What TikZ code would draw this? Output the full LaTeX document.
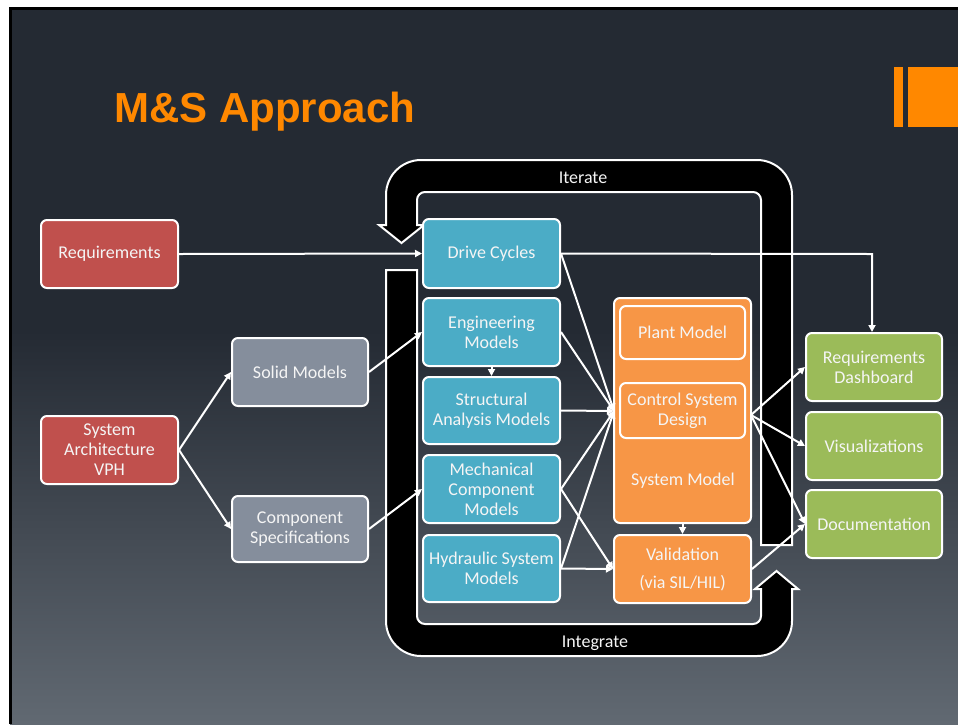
\documentclass[tikz,border=0pt]{standalone}
\usepackage{fontspec}
\setmainfont{Carlito}
\newfontfamily\headfont{Liberation Sans}
\usetikzlibrary{arrows.meta}

\definecolor{slidetop}{RGB}{36,42,51}
\definecolor{slidebot}{RGB}{97,105,114}
\definecolor{accent}{RGB}{255,136,0}
\definecolor{boxred}{RGB}{192,80,77}
\definecolor{boxgray}{RGB}{133,142,156}
\definecolor{boxteal}{RGB}{75,172,198}
\definecolor{boxorange}{RGB}{247,150,70}
\definecolor{boxgreen}{RGB}{155,187,89}
\definecolor{ink}{RGB}{245,245,245}

\tikzset{
  box/.style={draw=white, line width=2pt, rounded corners=6pt, align=center,
    text=ink, font=\fontsize{18}{20}\selectfont, inner sep=2pt,
    minimum width=137pt, minimum height=68pt},
  redbox/.style={box, fill=boxred},
  graybox/.style={box, fill=boxgray},
  tealbox/.style={box, fill=boxteal},
  orangebox/.style={box, fill=boxorange},
  greenbox/.style={box, fill=boxgreen},
  link/.style={draw=white, line width=2pt, -{Triangle[length=7pt,width=7pt]}},
  loopband/.style={fill=black, draw=white, line width=2pt, line join=miter},
  looplabel/.style={text=ink, font=\fontsize{18}{20}\selectfont}
}

\begin{document}
\begin{tikzpicture}[x=1pt,y=-1pt]
\useasboundingbox (0,0) rectangle (958,724);

% slide background
\fill[white] (0,0) rectangle (958,724);
\fill[slidetop] (10,8) rectangle (958,331);
\shade[top color=slidetop, bottom color=slidebot] (10,330) rectangle (958,724);
\draw[black, line width=3pt] (10.5,724) -- (10.5,8.5) -- (958,8.5);

% title and corner accent
\node[anchor=base west, text=accent, font=\headfont\bfseries\fontsize{42}{48}\selectfont, inner sep=0pt]
  (title) at (114,122) {M\&S Approach};
\fill[accent] (894,67) rectangle (903,127);
\fill[accent] (908,67) rectangle (958,127);

% Iterate loop (arrow pointing down on the left)
\draw[loopband] (792,545) -- (792,195) arc[start angle=0,end angle=-90,radius=35]
  -- (421,160) arc[start angle=-90,end angle=-180,radius=35]
  -- (386,225) -- (379,225) -- (401.5,243) -- (424,225) -- (417,225)
  -- (417,200) arc[start angle=180,end angle=270,radius=8]
  -- (753,192) arc[start angle=270,end angle=360,radius=8]
  -- (761,545) -- cycle;
\node[looplabel] (iter) at (583,178) {Iterate};

% Integrate loop (arrow pointing up on the right)
\draw[loopband] (386,270) -- (386,621) arc[start angle=180,end angle=90,radius=35]
  -- (757,656) arc[start angle=90,end angle=0,radius=35]
  -- (792,589) -- (798,589) -- (776.5,571) -- (755,589) -- (761,589)
  -- (761,616) arc[start angle=0,end angle=90,radius=8]
  -- (425,624) arc[start angle=90,end angle=180,radius=8]
  -- (417,270) -- cycle;
\node[looplabel] (integ) at (595,643) {Integrate};

% sources
\node[redbox] (req) at (109.5,254) {Requirements};
\node[redbox] (arch) at (109.5,450) {System\\Architecture\\VPH};
\node[graybox, minimum width=136pt] (solid) at (300,372) {Solid Models};
\node[graybox, minimum width=136pt, minimum height=66pt] (comp) at (300,529) {Component\\Specifications};

% model column
\node[tealbox, minimum height=69pt] (drive) at (491.5,253.5) {Drive Cycles};
\node[tealbox] (eng) at (491.5,332) {Engineering\\Models};
\node[tealbox, minimum height=67pt] (struct) at (491.5,410.5) {Structural\\Analysis Models};
\node[tealbox] (mech) at (491.5,489) {Mechanical\\Component\\Models};
\node[tealbox, minimum height=67pt] (hyd) at (491.5,568.5) {Hydraulic System\\Models};

% system model with its parts
\node[orangebox, minimum height=225pt] (sysmod) at (682.5,410.5) {};
\node[orangebox, minimum width=125pt, minimum height=53pt] (plant) at (682.5,332.5) {Plant Model};
\node[orangebox, minimum width=125pt, minimum height=55pt] (csd) at (682.5,410.5) {Control System\\Design};
\node[text=ink, font=\fontsize{18}{20}\selectfont] (smlabel) at (683,481) {System Model};
\node[orangebox] (valid) at (682.5,569) {Validation\\[8pt](via SIL/HIL)};

% outputs
\node[greenbox, minimum width=136pt] (dash) at (874,367) {Requirements\\Dashboard};
\node[greenbox, minimum width=136pt] (vis) at (874,446) {Visualizations};
\node[greenbox, minimum width=136pt] (doc) at (874,524) {Documentation};

% junction points on the system model
\coordinate (inpt) at (614,411);
\coordinate (outpt) at (751,415);

% connectors
\draw[link] (req.east) -- (drive.west);
\draw[link] (drive.east) -- (872,254) -- (dash.north -| 872,0);
\draw[link] (arch.east) -- (solid.west);
\draw[link] (arch.east) -- (comp.west);
\draw[link] (solid.east) -- (eng.west);
\draw[link] (comp.east) -- (mech.west);
\draw[link] (eng.south) -- (struct.north);
\draw[link] (drive.east) -- (inpt);
\draw[link] (eng.east) -- (inpt);
\draw[link] (struct.east) -- (inpt);
\draw[link] (mech.east) -- (inpt);
\draw[link] (hyd.east) -- (inpt);
\draw[link] (mech.east) -- (valid.west);
\draw[link] (hyd.east) -- (valid.west);
\draw[link] (sysmod.south) -- (valid.north);
\draw[link] (outpt) -- (dash.west);
\draw[link] (outpt) -- (vis.west);
\draw[link] (outpt) -- (doc.west);
\draw[link] (valid.east) -- (doc.west);
\end{tikzpicture}
\end{document}
